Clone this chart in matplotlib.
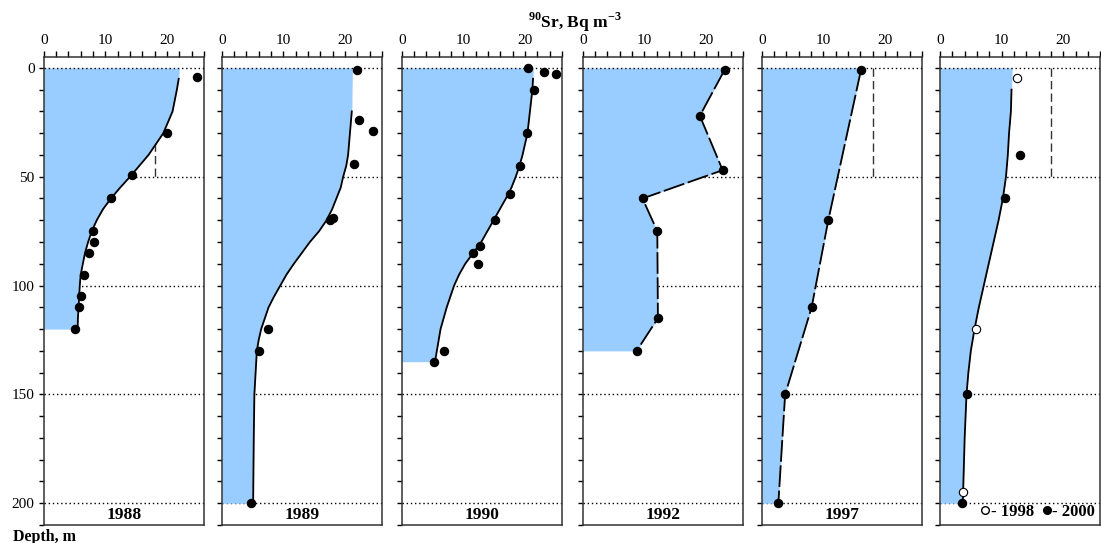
import matplotlib.pyplot as plt
from matplotlib.lines import Line2D

plt.rcParams['font.family'] = 'Liberation Serif'
plt.rcParams['mathtext.fontset'] = 'custom'
plt.rcParams['mathtext.rm'] = 'Liberation Serif:bold'
plt.rcParams['mathtext.bf'] = 'Liberation Serif:bold'

# profile lines (depth, m / Sr-90, Bq m-3)
d88 = [0, 5, 10, 20, 30, 40, 50, 55, 60, 65, 70, 75, 80, 85, 90, 95, 100, 110, 115, 120]
c88 = [22.0, 21.9, 21.6, 20.9, 19.4, 17.0, 14.0, 12.4, 10.9, 9.6, 8.6, 7.8, 7.2, 6.7,
       6.35, 6.0, 5.85, 5.65, 5.55, 5.5]
d89 = [0, 20, 30, 40, 45, 50, 55, 60, 65, 70, 75, 80, 85, 90, 95, 100, 105, 110, 115,
       120, 125, 130, 135, 140, 150, 160, 170, 200]
c89 = [21.2, 21.1, 20.8, 20.5, 20.2, 19.7, 19.3, 18.6, 17.9, 17.0, 15.8, 14.3, 13.0,
       11.7, 10.5, 9.5, 8.5, 7.6, 7.0, 6.4, 6.0, 5.7, 5.6, 5.5, 5.3, 5.25, 5.2, 5.1]
d90 = [0, 5, 10, 15, 20, 25, 30, 35, 40, 45, 50, 55, 60, 65, 70, 75, 80, 85, 90, 95,
       100, 105, 110, 115, 120, 125, 130, 135]
c90 = [21.35, 21.3, 21.2, 21.0, 20.8, 20.6, 20.4, 20.0, 19.6, 19.1, 18.5, 17.8, 16.9,
       15.9, 14.9, 13.9, 12.9, 11.6, 10.3, 9.3, 8.5, 7.9, 7.3, 6.8, 6.3, 6.0, 5.7, 5.4]
d92 = [0, 1, 22, 47, 60, 75, 115, 130]
c92 = [23.0, 23.0, 19.0, 22.7, 9.7, 12.1, 12.2, 8.75]
d97 = [0, 1, 70, 110, 150, 200]
c97 = [16.1, 16.1, 10.8, 8.1, 3.8, 2.7]
d00 = [0, 10, 20, 30, 40, 50, 60, 70, 80, 90, 100, 110, 120, 130, 140, 150, 170, 200]
c00 = [11.7, 11.6, 11.5, 11.2, 11.0, 10.7, 10.2, 9.5, 8.7, 7.9, 7.1, 6.3, 5.6, 5.0,
       4.6, 4.3, 4.0, 3.7]

# measured points
pd88 = [4, 30, 49, 60, 75, 80, 85, 95, 105, 110, 120]
pc88 = [24.9, 20.0, 14.3, 10.9, 8.0, 8.1, 7.4, 6.5, 6.1, 5.7, 5.1]
pd89 = [1, 24, 29, 44, 70, 69, 120, 130, 200]
pc89 = [21.9, 22.3, 24.6, 21.5, 17.6, 18.1, 7.5, 6.1, 4.75]
pd90 = [0, 2, 3, 10, 30, 45, 58, 70, 82, 85, 90, 130, 135]
pc90 = [20.5, 23.0, 25.0, 21.4, 20.4, 19.2, 17.5, 15.1, 12.7, 11.5, 12.3, 6.8, 5.2]
pd92 = [1, 22, 47, 60, 75, 115, 130]
pc92 = [23.0, 19.0, 22.7, 9.7, 12.1, 12.2, 8.75]
pd97 = [1, 70, 110, 150, 200]
pc97 = [16.1, 10.8, 8.1, 3.8, 2.7]
pd98 = [4.5, 120, 195]
pc98 = [12.5, 5.9, 3.8]
pd2000 = [40, 60, 150, 200]
pc2000 = [12.9, 10.5, 4.3, 3.6]

panels = [
    ('1988', d88, c88, '-', [(pd88, pc88, 'k')], True),
    ('1989', d89, c89, '-', [(pd89, pc89, 'k')], False),
    ('1990', d90, c90, '-', [(pd90, pc90, 'k')], False),
    ('1992', d92, c92, (0, (12, 2)), [(pd92, pc92, 'k')], False),
    ('1997', d97, c97, (0, (12, 2)), [(pd97, pc97, 'k')], True),
    ('', d00, c00, '-', [(pd98, pc98, 'w'), (pd2000, pc2000, 'k')], True),
]

W, H = 1101, 543
fig = plt.figure(figsize=(W / 100, H / 100), dpi=100)
lefts = [43.7, 221.7, 401.7, 582.7, 761.7, 940.0]

for i, (year, dep, conc, ls, pts, box) in enumerate(panels):
    ax = fig.add_axes([lefts[i] / W, 1 - 525 / H, 160.3 / W, 468 / H])
    ax.set_xlim(0, 26)
    ax.set_ylim(210, -5)
    for g in [50, 100, 150, 200]:
        ax.axhline(g, color='k', lw=1, ls=(0, (1, 2)), zorder=1)
    ax.axhline(0, color='k', lw=1, ls=(0, (1, 2)), zorder=3)
    if box:
        ax.plot([18, 18], [0, 50], color='#333333', lw=1, ls=(0, (6, 3)), zorder=1)
    ax.fill_betweenx(dep, 0, conc, color='#99ccff', lw=0, zorder=2)
    ax.plot(conc[1:], dep[1:], color='k', lw=1.3, ls=ls, zorder=3)
    for pdp, pcc, fc in pts:
        ax.plot(pcc, pdp, 'o', ms=6, mfc=fc, mec='k', mew=0.8, ls='none',
                zorder=4, clip_on=False)
    if year:
        ax.text(13, 205.5, year, ha='center', va='center', fontsize=12.5,
                fontweight='bold')
    ax.xaxis.tick_top()
    ax.set_xticks(range(0, 27, 2))
    ax.set_xticklabels([str(v) if v % 10 == 0 else '' for v in range(0, 27, 2)])
    ax.set_yticks(range(0, 211, 10))
    if i == 0:
        ax.set_yticklabels([str(v) if v % 50 == 0 else '' for v in range(0, 211, 10)])
    else:
        ax.set_yticklabels([])
    ax.tick_params(direction='out', length=4, width=1, labelsize=11, pad=3)
    ax.tick_params(axis='y', length=3.5)
    for s in ax.spines.values():
        s.set_color('#333333')
        s.set_linewidth(1.1)

    if i == 5:
        handles = [Line2D([], [], marker='o', ls='none', ms=5.5, mfc='w', mec='k'),
                   Line2D([], [], marker='o', ls='none', ms=5.5, mfc='k', mec='k')]
        ax.legend(handles, ['- 1998', '- 2000'], ncol=2, loc='lower right',
                  frameon=False, handlelength=0.5, handletextpad=0.1,
                  columnspacing=0.5, borderaxespad=0.1, borderpad=0.2,
                  prop={'weight': 'bold', 'size': 12})

fig.text(575 / W, 1 - 22 / H, '$^{90}$Sr, Bq m$^{-3}$', ha='center',
         va='center', fontsize=12.5, fontweight='bold')
fig.text(13 / W, 1 - 537 / H, 'Depth, m', ha='left', va='center', fontsize=11.5,
         fontweight='bold')

fig.savefig('out.png', dpi=100)
